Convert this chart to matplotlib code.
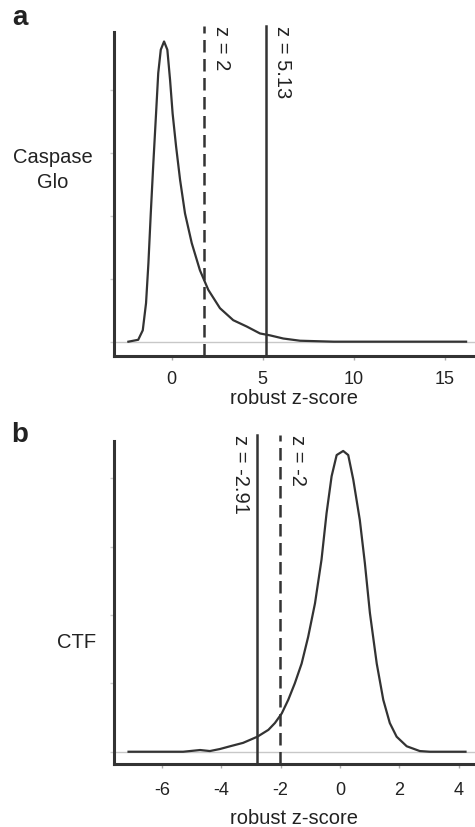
import numpy as np
import matplotlib.pyplot as plt

plt.rcParams['font.family'] = ['Liberation Sans', 'DejaVu Sans']
plt.rcParams['axes.unicode_minus'] = False

# panel a: Caspase Glo density (arbitrary y units)
caspase_z = [-2.38, -1.84, -1.59, -1.41, -1.28, -1.15, -1.01, -0.86, -0.74, -0.6,
             -0.42, -0.24, -0.09, 0.05, 0.24, 0.46, 0.73, 1.1, 1.55, 2.01,
             2.65, 3.38, 4.12, 4.85, 5.4, 6.13, 7.05, 8.9, 12.0, 16.17]
caspase_dens = [0.01, 0.04, 0.19, 0.62, 1.25, 2.04, 2.83, 3.62, 4.26, 4.63,
                4.76, 4.63, 4.15, 3.62, 3.1, 2.57, 2.04, 1.57, 1.14, 0.83,
                0.54, 0.35, 0.25, 0.14, 0.11, 0.06, 0.025, 0.01, 0.01, 0.01]
caspase_cuts = [1.8, 5.16]
caspase_cut_labels = ['z = 2', 'z = 5.13']
caspase_cut_styles = ['--', '-']
caspase_label_side = [1, 1]

# panel b: CTF density
ctf_z = [-7.12, -5.28, -4.71, -4.38, -4.04, -3.7, -3.26, -2.78, -2.41, -2.19,
         -1.96, -1.74, -1.52, -1.29, -1.07, -0.84, -0.62, -0.45, -0.28, -0.11,
         0.11, 0.28, 0.45, 0.67, 0.84, 1.01, 1.24, 1.46, 1.68, 1.91,
         2.25, 2.69, 3.03, 4.23]
ctf_dens = [0.0, 0.0, 0.025, 0.01, 0.04, 0.08, 0.13, 0.22, 0.32, 0.42,
            0.56, 0.76, 1.0, 1.29, 1.68, 2.17, 2.81, 3.49, 4.03, 4.34,
            4.40, 4.34, 3.98, 3.39, 2.76, 2.03, 1.29, 0.76, 0.42, 0.22,
            0.08, 0.01, 0.0, 0.0]
ctf_cuts = [-2.78, -2.02]
ctf_cut_labels = ['z = -2.91', 'z = -2']
ctf_cut_styles = ['-', '--']
ctf_label_side = [-1, 1]

ink = '#333333'

fig = plt.figure(figsize=(4.75, 8.27), dpi=100)


def draw_panel(rect, xs, ys, xlim, ylim, xticks, cuts, cut_labels, cut_styles,
               sides, top_frac, tickpad, xlabelpad):
    ax = fig.add_axes(rect)
    ax.axhline(0, color='#c8c8c8', lw=1, zorder=1)
    ax.plot(xs, ys, color=ink, lw=1.6, zorder=3)
    for x, lab, ls, side in zip(cuts, cut_labels, cut_styles, sides):
        line = ax.axvline(x, ymin=0, ymax=top_frac, color=ink, lw=1.8,
                          ls=ls, clip_on=False, zorder=2)
        if ls == '--':
            line.set_dashes((5, 2.6))
        # rotated text reading downwards, tops of letters point right
        ax.annotate(lab, xy=(x, top_frac), xycoords=('data', 'axes fraction'),
                    xytext=(5.5 * side, 0), textcoords='offset points',
                    rotation=270, rotation_mode='anchor', ha='left',
                    va='bottom' if side > 0 else 'top',
                    fontsize=14.5, color='#222222', annotation_clip=False)
    ax.set_xlim(*xlim)
    ax.set_ylim(*ylim)
    ax.set_xticks(xticks)
    ax.set_yticks([0, 1, 2, 3, 4])
    ax.set_yticklabels([])
    for side in ['top', 'right']:
        ax.spines[side].set_visible(False)
    for side in ['left', 'bottom']:
        ax.spines[side].set_linewidth(2.2)
        ax.spines[side].set_color(ink)
    ax.tick_params(axis='x', length=3, width=1, color='#aaaaaa', pad=tickpad,
                   labelsize=13, labelcolor='#222222')
    ax.tick_params(axis='y', length=3, width=1, color='#cccccc')
    ax.set_xlabel('robust z-score', fontsize=14.5, color='#222222',
                  labelpad=xlabelpad)
    return ax


draw_panel([0.24, 0.5695, 0.76, 0.3918], caspase_z, caspase_dens,
           (-3.17, 16.66), (-0.217, 4.91), [0, 5, 10, 15],
           caspase_cuts, caspase_cut_labels, caspase_cut_styles,
           caspase_label_side, 1.0185, 8, 0.5)
draw_panel([0.24, 0.0758, 0.76, 0.3913], ctf_z, ctf_dens,
           (-7.61, 4.55), (-0.184, 4.55), [-6, -4, -2, 0, 2, 4],
           ctf_cuts, ctf_cut_labels, ctf_cut_styles,
           ctf_label_side, 1.0176, 9.5, 7.5)

fig.text(20 / 475, 1 - 18 / 827, 'a', fontsize=20, fontweight='bold',
         ha='center', va='center', color='#222222')
fig.text(20 / 475, 1 - 435 / 827, 'b', fontsize=20, fontweight='bold',
         ha='center', va='center', color='#222222')
fig.text(53 / 475, 1 - 170 / 827, 'Caspase\nGlo', fontsize=14.5,
         ha='center', va='center', color='#222222', linespacing=1.35)
fig.text(77 / 475, 1 - 643 / 827, 'CTF', fontsize=14.5,
         ha='center', va='center', color='#222222')

fig.savefig('out.png', dpi=100)
